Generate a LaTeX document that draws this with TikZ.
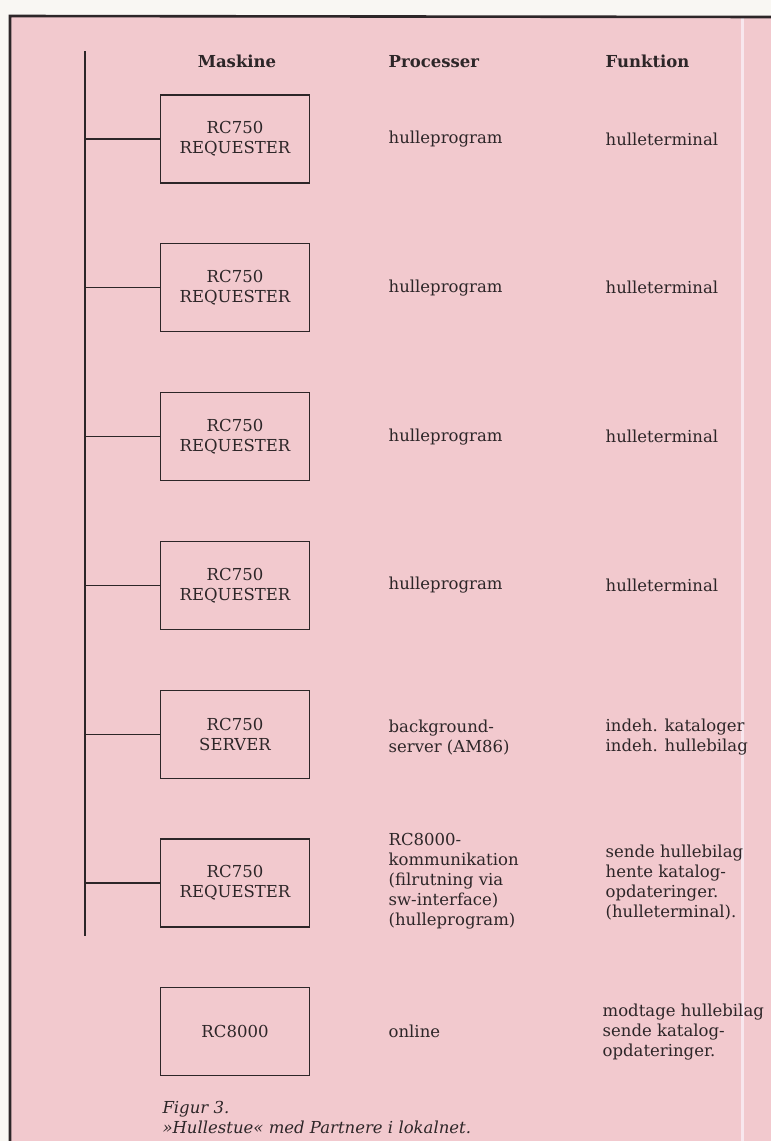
\documentclass[tikz,border=0pt]{standalone}
\usepackage{fontspec}
\setmainfont{DejaVu Serif}
\usepackage{tikz}
\usetikzlibrary{positioning}
\definecolor{rosa}{RGB}{242,201,206}
\definecolor{papir}{RGB}{249,247,243}
\definecolor{strib}{RGB}{248,231,238}
\definecolor{ink}{RGB}{45,38,40}

\begin{document}
\begin{tikzpicture}[x=1pt,y=1pt,line width=1.3pt,color=ink,
                    node distance=59.5pt]
  \tikzstyle{every node}=[inner sep=0pt,font=\fontsize{16.5}{20}\selectfont]
  \tikzstyle{maskine}=[draw,minimum width=149pt,minimum height=88pt,align=center]
  \tikzstyle{tekst}=[anchor=west,align=left]
  \tikzstyle{hoved}=[anchor=base west,font=\fontsize{16.5}{20}\selectfont\bfseries]
\fill[papir] (0,0) rectangle (771,-1141);
\useasboundingbox (0,0) rectangle (771,-1141);
\fill[rosa] (10,-16) rectangle (771,-1141);
\draw[strib,line width=3pt] (742,-18) -- (742,-1141);
\draw[line width=2.6pt] (771,-17) -- (10,-16) -- (10,-1141);

\node (h1) [hoved,anchor=base] at (237,-67) {Maskine};
\node (h2) [hoved] at (388,-67) {Processer};
\node (h3) [hoved] at (605,-67) {Funktion};

\node [maskine] (m1) at (235,-139) {RC750\\REQUESTER};
\node [maskine] (m2) [below=of m1] {RC750\\REQUESTER};
\node [maskine] (m3) [below=of m2] {RC750\\REQUESTER};
\node [maskine] (m4) [below=of m3] {RC750\\REQUESTER};
\node [maskine] (m5) [below=of m4] {RC750\\SERVER};
\node [maskine] (m6) [below=of m5] {RC750\\REQUESTER};
\node [maskine] (m7) [below=of m6] {RC8000};

\node (p1) [tekst] at (h2.west |- m1) {hulleprogram};
\node (p2) [tekst] at (h2.west |- m2) {hulleprogram};
\node (p3) [tekst] at (h2.west |- m3) {hulleprogram};
\node (p4) [tekst] at (h2.west |- m4) {hulleprogram};
\node (p5) [tekst,yshift=-3pt] at (h2.west |- m5) {background-\\server (AM86)};
\node (p6) [tekst,yshift=2pt] at (h2.west |- m6) {RC8000-\\kommunikation\\(filrutning via\\sw-interface)\\(hulleprogram)};
\node (p7) [tekst] at (h2.west |- m7) {online};

\node (f1) [tekst] at (h3.west |- m1) {hulleterminal};
\node (f2) [tekst] at (h3.west |- m2) {hulleterminal};
\node (f3) [tekst] at (h3.west |- m3) {hulleterminal};
\node (f4) [tekst] at (h3.west |- m4) {hulleterminal};
\node (f5) [tekst,yshift=-3pt] at (h3.west |- m5) {indeh. kataloger\\indeh. hullebilag};
\node (f6) [tekst] at (h3.west |- m6) {sende hullebilag\\hente katalog-\\opdateringer.\\(hulleterminal).};
\node (f7) [tekst,xshift=-3pt] at (h3.west |- m7) {modtage hullebilag\\sende katalog-\\opdateringer.};

\coordinate (bus top) at (85,-51);
\coordinate (bus bund) at (85,-936);
\draw (bus top) -- (bus bund);
\path (m1 -| bus top) edge (m1)
      (m2 -| bus top) edge (m2)
      (m3 -| bus top) edge (m3)
      (m4 -| bus top) edge (m4)
      (m5 -| bus top) edge (m5)
      (m6 -| bus top) edge (m6);

\node (fig) [below right=24pt and 2pt of m7.south west,align=left,
             font=\fontsize{16.5}{20}\selectfont\itshape]
  {Figur 3.\\»Hullestue« med Partnere i lokalnet.};
\end{tikzpicture}
\end{document}
